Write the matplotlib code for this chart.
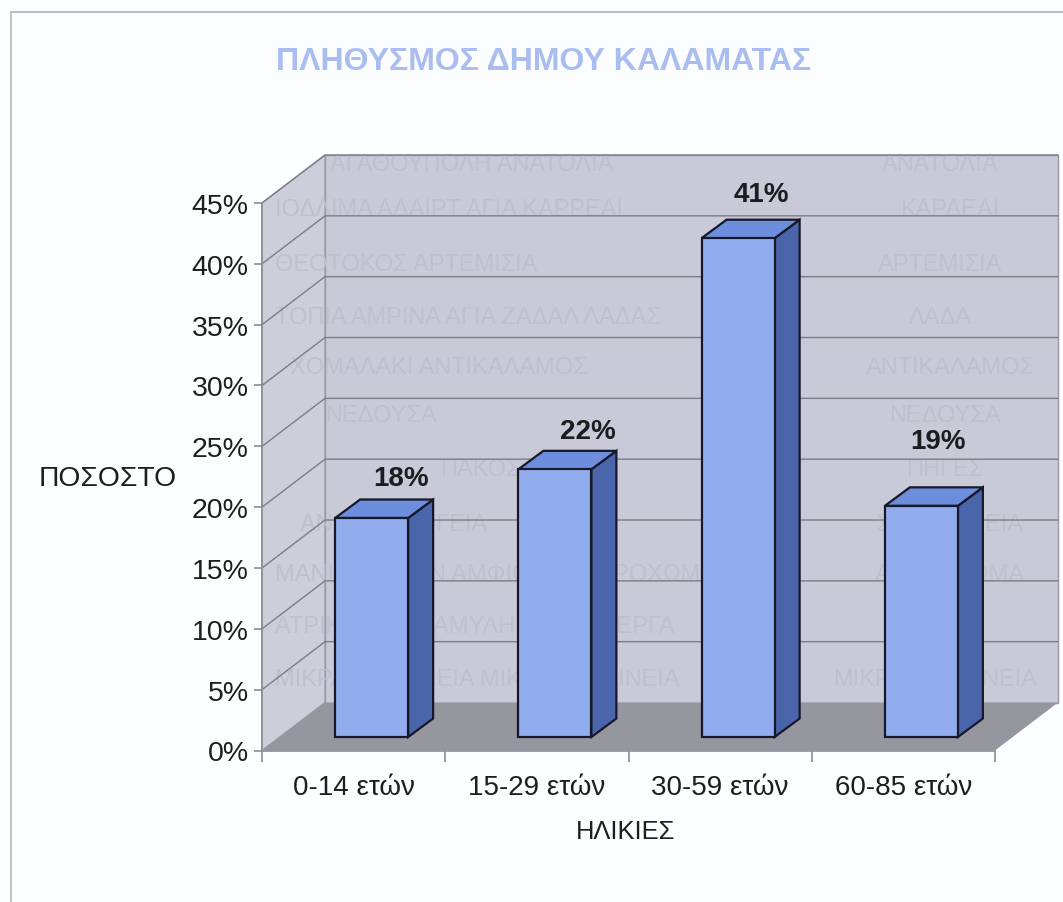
import matplotlib
matplotlib.use('Agg')
import matplotlib.pyplot as plt
from matplotlib.lines import Line2D
from matplotlib.patches import Polygon

plt.rcParams['font.family'] = ['Liberation Sans', 'DejaVu Sans']

# data
categories = ['0-14 ετών', '15-29 ετών', '30-59 ετών', '60-85 ετών']
values = [18, 22, 41, 19]
y_ticks = [0, 5, 10, 15, 20, 25, 30, 35, 40, 45]

# faint show-through from the back of the scanned page
ghost_y = [165, 210, 265, 318, 368, 416, 470, 525, 575, 627, 680]
ghost_left = ['ΑΓΑΘΟΥΠΟΛΗ ΑΝΑΤΟΛΙΑ', 'ΙΟΔΛΙΜΑ ΑΔΑΙΡΤ ΑΓΙΑ ΚΑΡΡΕΑΙ',
              'ΘΕΟΤΟΚΟΣ ΑΡΤΕΜΙΣΙΑ', 'ΤΟΠΙΑ ΑΜΡΙΝΑ ΑΓΙΑ ΖΑΔΑΛ ΛΑΔΑΣ',
              'ΧΟΜΑΛΑΚΙ ΑΝΤΙΚΑΛΑΜΟΣ', 'ΝΕΔΟΥΣΑ', 'ΠΑΚΟΣ',
              'ΑΝ ΣΠΕΡΧΟΓΕΙΑ', 'ΜΑΝΙΑ ΧΩΡΙΟΝ ΑΜΦΙΘΕΑ ΑΣΠΡΟΧΩΜΑ',
              'ΑΤΡΙΚΟΙ ΚΑΡΔΑΜΥΛΗ ΒΕΡΓΑ ΒΕΡΓΑ', 'ΜΙΚΡΑΜΑΝΤΙΝΕΙΑ ΜΙΚΡΑΜΑΝΤΙΝΕΙΑ']
ghost_left_x = [330, 275, 275, 275, 290, 325, 440, 300, 275, 275, 275]
ghost_right = ['ΑΝΑΤΟΛΙΑ', 'ΚΑΡΔΕΑΙ', 'ΑΡΤΕΜΙΣΙΑ', 'ΛΑΔΑ', 'ΑΝΤΙΚΑΛΑΜΟΣ', 'ΝΕΔΟΥΣΑ',
               'ΠΗΓΕΣ', 'ΣΠΕΡΧΟΓΕΙΑ', 'ΑΣΠΡΟΧΩΜΑ', 'ΒΕΡΓΑ', 'ΜΙΚΡΟΜΑΝΤΙΝΕΙΑ']
ghost_right_x = [940, 950, 940, 940, 950, 945, 945, 950, 950, 940, 935]

W, H = 1063, 903

# geometry of the fake 3d box, in axis units (pixels / scale)
px_x = 183.25
px_y = 12.17
depth_x = 63 / px_x
depth_y = 48 / px_y
bar_w = 73 / px_x
bar_dx = 25 / px_x
bar_dy = 18.5 / px_y
bar_base = 13.5 / px_y
bar_shift = 18 / px_x

wall_col = '#c9cad7'
side_col = '#cdced9'
floor_col = '#96969f'
grid_col = '#7c7d86'
edge_col = '#17182a'
ghost_col = '#bfc0cd'


def fx(x):
    return x / W


def fy(y):
    return 1 - y / H


fig = plt.figure(figsize=(W / 100, H / 100), dpi=100, facecolor='#fcfdfe')
ax = fig.add_axes([fx(262), fy(751.5), (995 - 262) / W, (751.5 - 204) / H])
ax.set_xlim(0, 4)
ax.set_ylim(0, 45)
ax.patch.set_visible(False)

# page frame
fig.add_artist(Line2D([fx(11), fx(1063)], [fy(13), fy(13)], color='#b9bdc6', lw=1.5))
fig.add_artist(Line2D([fx(11), fx(11)], [fy(13), fy(903)], color='#c0c3cb', lw=1.5))

# walls and floor
top = 45
ax.add_patch(Polygon([(depth_x, depth_y), (4 + depth_x, depth_y), (4 + depth_x, top + depth_y),
                      (depth_x, top + depth_y)], fc=wall_col, ec='#9a9ba6', lw=1, clip_on=False, zorder=1))
ax.add_patch(Polygon([(0, 0), (depth_x, depth_y), (depth_x, top + depth_y), (0, top)],
                     fc=side_col, ec='#9a9ba6', lw=1, clip_on=False, zorder=1))
ax.add_patch(Polygon([(0, 0), (4, 0), (4 + depth_x, depth_y), (depth_x, depth_y)],
                     fc=floor_col, ec='none', clip_on=False, zorder=1.2))

for t in y_ticks[1:]:
    ax.plot([0, depth_x, 4 + depth_x], [t, t + depth_y, t + depth_y], color=grid_col, lw=1,
            clip_on=False, zorder=1.1)

for y, txt, x in zip(ghost_y, ghost_left, ghost_left_x):
    ax.text(fx(x), fy(y), txt, transform=fig.transFigure, ha='left', va='center',
            fontsize=17, color=ghost_col, zorder=1.05)
for y, txt, x in zip(ghost_y, ghost_right, ghost_right_x):
    ax.text(fx(x), fy(y), txt, transform=fig.transFigure, ha='center', va='center',
            fontsize=17, color=ghost_col, zorder=1.05)

# bars
pos = [i + 0.5 + bar_shift for i in range(len(values))]
ax.bar(pos, values, width=bar_w, bottom=bar_base, color='#92adee', edgecolor=edge_col,
       linewidth=1.6, zorder=3)
for p, v in zip(pos, values):
    x0 = p - bar_w / 2
    x1 = p + bar_w / 2
    y0 = bar_base
    y1 = bar_base + v
    ax.add_patch(Polygon([(x1, y0), (x1 + bar_dx, y0 + bar_dy), (x1 + bar_dx, y1 + bar_dy), (x1, y1)],
                         fc='#4a65aa', ec=edge_col, lw=1.6, clip_on=False, zorder=2.9))
    ax.add_patch(Polygon([(x0, y1), (x0 + bar_dx, y1 + bar_dy), (x1 + bar_dx, y1 + bar_dy), (x1, y1)],
                         fc='#6d8ddd', ec=edge_col, lw=1.6, clip_on=False, zorder=2.9))

# data labels, placed by hand like in the original
label_dx = [29, 33, 23, 17]
label_dy = [40, 38, 44, 65]
for p, v, dx, dy in zip(pos, values, label_dx, label_dy):
    ax.annotate('%d%%' % v, (p, bar_base + v), xytext=(dx * 0.72, dy * 0.72),
                textcoords='offset points', ha='center', va='center',
                fontsize=20, fontweight='bold', color='#1d1d1f', zorder=5)

# axes
for s in ['top', 'right']:
    ax.spines[s].set_visible(False)
for s in ['left', 'bottom']:
    ax.spines[s].set_color('#8b8c95')
    ax.spines[s].set_linewidth(1.2)
    ax.spines[s].set_zorder(2)
ax.set_yticks(y_ticks)
ax.set_yticklabels(['%d%%' % t for t in y_ticks], fontsize=20.5, color='#1e1e20')
ax.set_xticks(range(5))
ax.set_xticklabels([])
ax.tick_params(axis='y', length=6, width=1.2, color='#8b8c95', pad=3.5)
ax.tick_params(axis='x', length=8, width=1.2, color='#8b8c95')

for i, c in enumerate(categories):
    ax.text(i + 0.5, -3.0, c, ha='center', va='center', fontsize=20, color='#1e1e20')

fig.text(fx(108), fy(479), 'ΠΟΣΟΣΤΟ', ha='center', va='center', fontsize=20.3, color='#1e1e20')
fig.text(fx(626), fy(832), 'ΗΛΙΚΙΕΣ', ha='center', va='center', fontsize=18.4, color='#1e1e20')
fig.text(fx(544), fy(62), 'ΠΛΗΘΥΣΜΟΣ ΔΗΜΟΥ ΚΑΛΑΜΑΤΑΣ', ha='center', va='center',
         fontsize=23, fontweight='bold', color='#a9bdf0')

fig.savefig('out.png', dpi=100, facecolor=fig.get_facecolor())
